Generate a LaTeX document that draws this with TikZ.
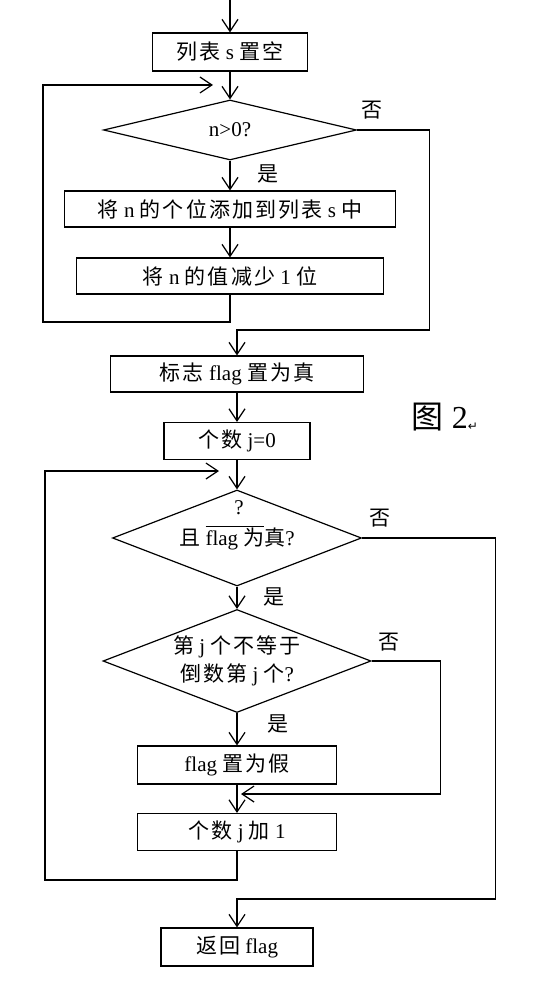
\documentclass[tikz,border=0pt]{standalone}
\usepackage{fontspec}
\setmainfont{Liberation Serif}
\newfontfamily\cjk[LetterSpace=10]{Noto Sans CJK SC}
\newfontfamily\symfont{DejaVu Sans}
\newcommand{\zh}[1]{{\cjk #1}}
\usetikzlibrary{positioning, shapes.geometric, arrows.meta}

\begin{document}
\begin{tikzpicture}[
        x=1pt, y=-1pt,
        font=\fontsize{21}{28}\selectfont,
        box/.style={rectangle, draw=black, line width=1.2pt, inner sep=0pt, align=center},
        decision/.style={diamond, draw=black, line width=1.2pt, inner sep=0pt, align=center},
        arrow/.style={-{Straight Barb[length=12pt, width=16pt]}, line width=1.2pt},
        line/.style={line width=1.2pt}
        ]

        \useasboundingbox (0,0) rectangle (546,992);

        % first loop
        \coordinate (entry) at (230,0);
        \node[box, minimum width=155pt, minimum height=38pt] (clear) at (230,52) {\zh{列表} s \zh{置空}};
        \node[decision, aspect=4.2, minimum width=253pt, minimum height=60pt] (test) at (230,130) {n>0?};
        \node[box, minimum width=331pt, minimum height=36pt] (append) at (230,209) {\zh{将} n \zh{的个位添加到列表} s \zh{中}};
        \node[box, minimum width=307pt, minimum height=36pt] (shrink) at (230,276) {\zh{将} n \zh{的值减少} 1 \zh{位}};
        \coordinate (back1) at (213,85);

        % second loop
        \node[box, minimum width=253pt, minimum height=36pt] (flagtrue) at (237,374) {\zh{标志} flag \zh{置为真}};
        \node[box, minimum width=146pt, minimum height=37pt] (count) at (237,441) {\zh{个数} j=0};
        \node[decision, aspect=2.6, minimum width=249pt, minimum height=96pt] (check) at (237,538) {\zh{且} $\overline{\hbox{flag \zh{为}}}$\zh{真}?};
        \node (qmark) at (239,508) {?};
        \node[decision, aspect=2.6, minimum width=268pt, minimum height=103pt] (compare) at (237,661) {\zh{第} j \zh{个不等于}\\\zh{倒数第} j \zh{个}?};
        \node[box, minimum width=199pt, minimum height=38pt] (flagfalse) at (237,765) {flag \zh{置为假}};
        \node[box, minimum width=199pt, minimum height=37pt] (inc) at (237,832) {\zh{个数} j \zh{加} 1};
        \node[box, minimum width=152pt, minimum height=38pt] (ret) at (237,947) {\zh{返回} flag};
        \coordinate (back2) at (219,471);
        \coordinate (merge) at (241,794);

        % labels
        \node (yes1) at (268,174) {\zh{是}};
        \node (no1) at (372,110) {\zh{否}};
        \node (yes2) at (274,597) {\zh{是}};
        \node (no2) at (380,518) {\zh{否}};
        \node (yes3) at (278,724) {\zh{是}};
        \node (no3) at (389,642) {\zh{否}};
        \node[font=\fontsize{32}{36}\selectfont] (fig) at (445,417) {\zh{图} 2\raisebox{-2pt}{\symfont\fontsize{12}{12}\selectfont ↵}};

        % connectors
        \draw[arrow] (entry) -- (clear);
        \draw[arrow] (clear) -- (test);
        \draw[arrow] (test) -- (append);
        \draw[arrow] (append) -- (shrink);
        \draw[arrow] (shrink.south) |- (43,322) |- (back1);
        \draw[arrow] (test.east) -- ++(72,0) |- (237,330) -- (flagtrue.north);
        \draw[arrow] (flagtrue) -- (count);
        \draw[arrow] (count) -- (check);
        \draw[arrow] (check) -- (compare);
        \draw[arrow] (compare) -- (flagfalse);
        \draw[arrow] (compare.east) -- ++(69,0) |- (merge);
        \draw[arrow] (flagfalse) -- (inc);
        \draw[arrow] (inc.south) |- (45,880) |- (back2);
        \draw[arrow] (check.east) -- ++(133,0) |- (237,899) -- (ret.north);
\end{tikzpicture}
\end{document}
